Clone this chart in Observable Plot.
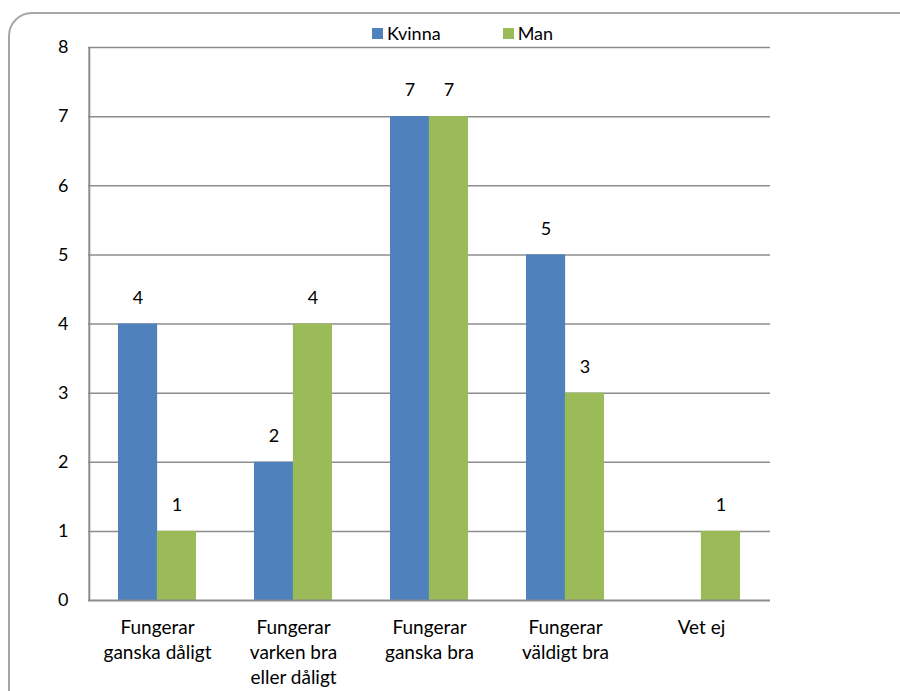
<!DOCTYPE html>
<html>
<head>
<meta charset="utf-8">
<script src="https://cdn.jsdelivr.net/npm/d3@7"></script>
<script src="https://cdn.jsdelivr.net/npm/@observablehq/plot@0.6"></script>
<style>
  html, body { margin: 0; padding: 0; background: #fff; }
  body { width: 900px; height: 691px; overflow: hidden; position: relative; font-family: Lato, "Open Sans", sans-serif; }
  #frame { position: absolute; left: 8px; top: 12px; width: 920px; height: 720px; border: 2px solid #a6a6a6; border-radius: 24px; box-sizing: border-box; }
  #chart { position: absolute; left: 0; top: 0; }
  #legend { position: absolute; top: 22px; left: 372px; font-size: 18px; line-height: 22px; color: #000; display: flex; align-items: center; }
  #legend .item { display: flex; align-items: center; }
  #legend .sw { width: 11px; height: 11px; display: inline-block; margin-right: 4px; }
</style>
</head>
<body>
<div id="frame"></div>
<div id="chart"></div>
<div id="legend"></div>
<script>
const categories = ["Fungerar\nganska dåligt", "Fungerar\nvarken bra\neller dåligt", "Fungerar\nganska bra", "Fungerar\nväldigt bra", "Vet ej"];
const kvinna = [4, 2, 7, 5, 0];
const man = [1, 4, 7, 3, 1];
const seriesNames = ["Kvinna", "Man"];
const colors = ["#4F81BD", "#9BBB59"];
const yTicks = [0, 1, 2, 3, 4, 5, 6, 7, 8];

const rowsK = categories.map((c, i) => ({category: c, value: kvinna[i]}));
const rowsM = categories.map((c, i) => ({category: c, value: man[i]}));

const W = 900, H = 691;
const mL = 88, mR = 130, mT = 47, mB = 91;
const padIn = 0.43;
const step = (W - mL - mR) / categories.length;
const bw = step * (1 - padIn);

const plot = Plot.plot({
  width: W,
  height: H,
  marginLeft: mL,
  marginRight: mR,
  marginTop: mT,
  marginBottom: mB,
  style: {fontFamily: "Lato, 'Open Sans', sans-serif", fontSize: "18px", color: "#000", background: "transparent"},
  x: {domain: categories, type: "band", paddingInner: padIn, paddingOuter: padIn / 2, label: null},
  y: {domain: [0, 8], label: null},
  marks: [
    Plot.ruleY(yTicks.filter(d => d > 0), {stroke: "#8c8c8c", strokeWidth: 1.5}),
    Plot.barY(rowsK.filter(d => d.value > 0), {x: "category", y: "value", fill: colors[0], insetRight: bw / 2}),
    Plot.barY(rowsM.filter(d => d.value > 0), {x: "category", y: "value", fill: colors[1], insetLeft: bw / 2}),
    Plot.ruleY([0], {stroke: "#8c8c8c", strokeWidth: 2}),
    Plot.ruleX([categories[0]], {dx: -step / 2, y1: 0, y2: 8, stroke: "#8c8c8c", strokeWidth: 2}),
    Plot.text(rowsK.filter(d => d.value > 0), {x: "category", y: "value", text: d => String(d.value), dx: -bw / 4, dy: -26, fontSize: 18, fill: "#000"}),
    Plot.text(rowsM.filter(d => d.value > 0), {x: "category", y: "value", text: d => String(d.value), dx: bw / 4, dy: -26, fontSize: 18, fill: "#000"}),
    Plot.axisY({ticks: yTicks, tickSize: 0, tickPadding: 20, fontSize: 18, tickFormat: d => String(d), label: null}),
    Plot.axisX({tickSize: 0, tickPadding: 16, fontSize: 19, lineHeight: 1.32, label: null, textAnchor: "middle"})
  ]
});
document.getElementById("chart").appendChild(plot);

const legend = document.getElementById("legend");
seriesNames.forEach((name, i) => {
  const item = document.createElement("span");
  item.className = "item";
  item.style.marginRight = i === 0 ? "62px" : "0";
  const sw = document.createElement("span");
  sw.className = "sw";
  sw.style.background = colors[i];
  item.appendChild(sw);
  item.appendChild(document.createTextNode(name));
  legend.appendChild(item);
});
</script>
</body>
</html>
